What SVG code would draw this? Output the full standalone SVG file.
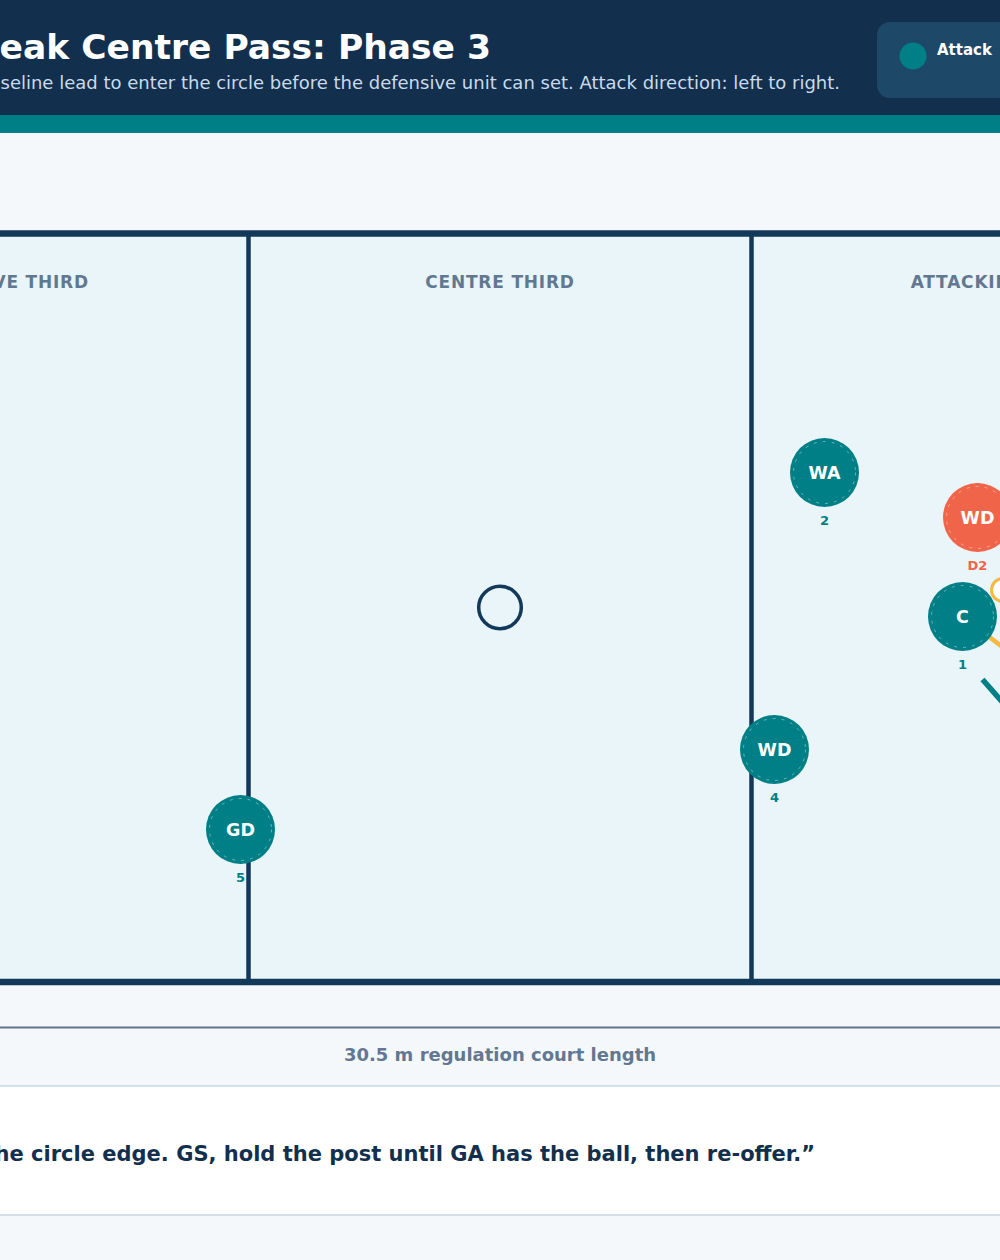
<svg xmlns="http://www.w3.org/2000/svg" width="1000" height="1260" viewBox="0 0 1000 1260">
<style>
text{font-family:"DejaVu Sans","Liberation Sans",sans-serif;}
.third{font-size:17px;font-weight:bold;fill:#627890;letter-spacing:0.8px;text-anchor:middle;}
.pl{fill:#007f86;}
.df{fill:#f0654a;}
.ring{fill:none;stroke:#ffffff;stroke-opacity:0.4;stroke-width:1;stroke-dasharray:3 6;}
.nt{font-size:17.5px;font-weight:bold;fill:#ffffff;text-anchor:middle;}
.num{font-size:13px;font-weight:bold;fill:#007f86;text-anchor:middle;}
.numd{font-size:13px;font-weight:bold;fill:#f0654a;text-anchor:middle;}
</style>
<rect x="0" y="0" width="1000" height="1260" fill="#f4f8fb"/>
<g id="header">
<rect x="0" y="0" width="1000" height="115" fill="#12304d"/>
<rect x="0" y="115" width="1000" height="18" fill="#007f86"/>
<text x="491" y="59" font-size="34.5" font-weight="bold" fill="#ffffff" text-anchor="end">eak Centre Pass: Phase 3</text>
<text x="840" y="89" font-size="18" fill="#cbdaea" text-anchor="end">seline lead to enter the circle before the defensive unit can set. Attack direction: left to right.</text>
</g>
<g id="legend">
<rect x="877" y="22" width="160" height="76" rx="13" fill="#1d4868"/>
<circle cx="913" cy="56" r="13.5" fill="#007f86"/>
<text x="937" y="55" font-size="15" font-weight="bold" fill="#ffffff">Attack</text>
</g>
<g id="court">
<rect x="-260" y="233.5" width="1520" height="748.5" fill="#e9f5f8" stroke="#12385a" stroke-width="6.5"/>
<line x1="248.5" y1="233" x2="248.5" y2="982" stroke="#12385a" stroke-width="4.5"/>
<line x1="751.5" y1="233" x2="751.5" y2="982" stroke="#12385a" stroke-width="4.5"/>
<text class="third" x="-3" y="288">DEFENSIVE THIRD</text>
<text class="third" x="500" y="288">CENTRE THIRD</text>
<text class="third" x="1003" y="288">ATTACKING THIRD</text>
<circle cx="500" cy="607.5" r="21.3" fill="none" stroke="#12385a" stroke-width="3.5"/>
</g>
<g id="connectors">
<line x1="962" y1="616" x2="1022" y2="662" stroke="#f5b942" stroke-width="4.5"/>
<line x1="982.5" y1="679.5" x2="1012" y2="713" stroke="#007f86" stroke-width="5.5"/>
</g>
<g id="ball">
<circle cx="1003" cy="590" r="11.5" fill="#ffffff" stroke="#f5b942" stroke-width="3"/>
</g>
<g id="node-WA">
<circle class="pl" cx="824.5" cy="472.5" r="34.5"/>
<circle class="ring" cx="824.5" cy="472.5" r="31"/>
<text class="nt" x="824.5" y="479">WA</text>
<text class="num" x="824.5" y="525">2</text>
</g>
<g id="node-WD-def">
<circle class="df" cx="977.5" cy="517.5" r="34.5"/>
<circle class="ring" cx="977.5" cy="517.5" r="31"/>
<text class="nt" x="977.5" y="524">WD</text>
<text class="numd" x="977.5" y="570">D2</text>
</g>
<g id="node-C">
<circle class="pl" cx="962.5" cy="616.5" r="34.5"/>
<circle class="ring" cx="962.5" cy="616.5" r="31"/>
<text class="nt" x="962.5" y="623">C</text>
<text class="num" x="962.5" y="669">1</text>
</g>
<g id="node-WD">
<circle class="pl" cx="774.5" cy="749.5" r="34.5"/>
<circle class="ring" cx="774.5" cy="749.5" r="31"/>
<text class="nt" x="774.5" y="756">WD</text>
<text class="num" x="774.5" y="802">4</text>
</g>
<g id="node-GD">
<circle class="pl" cx="240.5" cy="829.5" r="34.5"/>
<circle class="ring" cx="240.5" cy="829.5" r="31"/>
<text class="nt" x="240.5" y="836">GD</text>
<text class="num" x="240.5" y="882">5</text>
</g>
<g id="footer">
<line x1="0" y1="1027.5" x2="1000" y2="1027.5" stroke="#5f7389" stroke-width="2"/>
<text x="500" y="1061" font-size="18" font-weight="bold" fill="#627890" text-anchor="middle">30.5 m regulation court length</text>
<rect x="0" y="1087" width="1000" height="127" fill="#ffffff"/>
<line x1="0" y1="1086" x2="1000" y2="1086" stroke="#d5e1ea" stroke-width="2"/>
<line x1="0" y1="1215" x2="1000" y2="1215" stroke="#d5e1ea" stroke-width="2"/>
<text x="815" y="1161" font-size="21" font-weight="bold" fill="#12304d" text-anchor="end">he circle edge. GS, hold the post until GA has the ball, then re-offer.”</text>
</g>
</svg>
